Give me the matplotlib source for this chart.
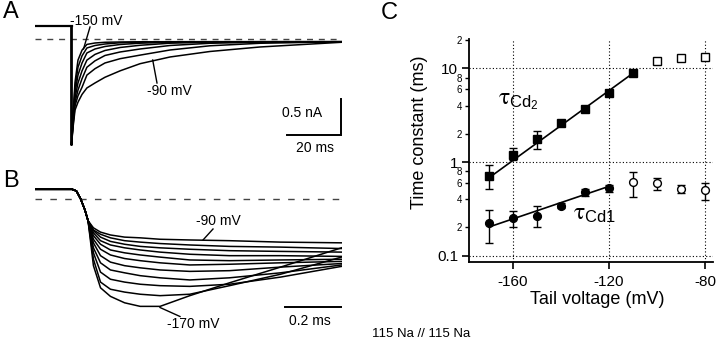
import matplotlib
matplotlib.use("Agg")
import matplotlib.pyplot as plt
from matplotlib.lines import Line2D
from matplotlib.ticker import FixedLocator, FixedFormatter, NullFormatter

plt.rcParams['font.family'] = ['Liberation Sans', 'DejaVu Sans']
plt.rcParams['mathtext.fontset'] = 'custom'
plt.rcParams['mathtext.rm'] = 'Liberation Sans'
plt.rcParams['mathtext.it'] = 'STIXGeneral'

W, H = 720, 349
fig = plt.figure(figsize=(W / 100, H / 100), dpi=100)


def px_axes(x0, y0, x1, y1):
    ax = fig.add_axes([x0 / W, 1 - y1 / H, (x1 - x0) / W, (y1 - y0) / H])
    return ax


def ftext(x, y, s, **kw):
    return fig.text(x / W, 1 - y / H, s, **kw)


def fline(xs, ys, lw=1.0):
    fig.add_artist(Line2D([x / W for x in xs], [1 - y / H for y in ys],
                          transform=fig.transFigure, color='k', lw=lw))


# ---------------- Panel A: Cd tail currents, slow component ----------------
a_hold = 0.178            # nA, holding current before the step
a_t_pre = [-13.5, 0.0]    # ms
a_time = [0, 0.55, 1.3, 2.4, 3.9, 5.7, 8.7, 12.4, 18, 25.4, 36.5, 51.3, 69.8, 100]
a_m150 = [-1.49, -1.07, -0.61, -0.30, -0.16, -0.08, -0.06, -0.05, -0.046, -0.043, -0.042, -0.042, -0.042, -0.042]
a_m140 = [-1.49, -1.11, -0.69, -0.40, -0.24, -0.13, -0.095, -0.074, -0.057, -0.049, -0.043, -0.042, -0.042, -0.042]
a_m130 = [-1.49, -1.14, -0.76, -0.51, -0.34, -0.20, -0.144, -0.109, -0.081, -0.063, -0.050, -0.045, -0.042, -0.042]
a_m120 = [-1.49, -1.17, -0.83, -0.62, -0.45, -0.30, -0.22, -0.165, -0.123, -0.092, -0.063, -0.049, -0.043, -0.042]
a_m110 = [-1.49, -1.19, -0.89, -0.72, -0.56, -0.40, -0.31, -0.235, -0.186, -0.144, -0.095, -0.064, -0.049, -0.042]
a_m100 = [-1.49, -1.22, -0.94, -0.80, -0.68, -0.51, -0.42, -0.34, -0.28, -0.23, -0.158, -0.099, -0.064, -0.043]
a_m90 = [-1.49, -1.25, -1.00, -0.89, -0.78, -0.69, -0.62, -0.54, -0.45, -0.35, -0.256, -0.179, -0.116, -0.050]
a_scale_ms, a_scale_nA = 20, 0.5

axA = px_axes(35, 20, 342, 150)
axA.set_xlim(-13.52, 100.19)
axA.set_ylim(-1.559, 0.262)
axA.axis('off')
axA.plot([-13.5, 100], [0, 0], color='#444444', lw=1.0, ls=(0, (4.3, 4.2)))
axA.plot(a_t_pre, [a_hold, a_hold], color='k', lw=1.6)
for tr in (a_m150, a_m140, a_m130, a_m120, a_m110, a_m100, a_m90):
    axA.plot([0] + a_time, [a_hold] + tr, color='k', lw=1.1,
             solid_joinstyle='round')
sbx, sby = 99.7, -1.349
axA.plot([sbx - a_scale_ms, sbx, sbx], [sby, sby, sby + a_scale_nA],
         color='k', lw=1.4, solid_joinstyle='miter')

ftext(3, 12, 'A', fontsize=17, va='center', ha='left')
ftext(70, 21, '-150 mV', fontsize=10, va='center', ha='left')
fline([90, 83.5], [27, 49])
ftext(147, 91, '-90 mV', fontsize=10, va='center', ha='left')
fline([157, 152.7], [83, 60])
ftext(302, 113, '0.5 nA', fontsize=10, va='center', ha='center')
ftext(315, 148, '20 ms', fontsize=10, va='center', ha='center')

# ---------------- Panel B: Cd tail currents, fast component ----------------
b_t_on = [-0.14, -0.01, 0.005, 0.02, 0.035, 0.046]   # ms, shared onset
b_i_on = [0.14, 0.14, 0.116, 0.004, -0.15, -0.30]   # nA
b_time = [0.065, 0.09, 0.125, 0.175, 0.23, 0.30, 0.405, 0.545, 0.725, 0.94]
b_t01 = [-0.40, -0.46, -0.50, -0.53, -0.54, -0.56, -0.57, -0.58, -0.60, -0.61]
b_t02 = [-0.43, -0.49, -0.54, -0.58, -0.60, -0.62, -0.64, -0.66, -0.67, -0.69]
b_t03 = [-0.44, -0.53, -0.59, -0.63, -0.66, -0.68, -0.70, -0.72, -0.73, -0.74]
b_t04 = [-0.47, -0.58, -0.64, -0.68, -0.71, -0.74, -0.77, -0.79, -0.79, -0.80]
b_t05 = [-0.51, -0.63, -0.71, -0.75, -0.78, -0.81, -0.85, -0.86, -0.85, -0.84]
b_t06 = [-0.56, -0.70, -0.78, -0.83, -0.86, -0.89, -0.92, -0.91, -0.89, -0.87]
b_t07 = [-0.61, -0.79, -0.88, -0.93, -0.96, -0.99, -1.01, -1.00, -0.95, -0.90]
b_t08 = [-0.68, -0.89, -0.99, -1.03, -1.07, -1.10, -1.13, -1.10, -1.03, -0.92]
b_t09 = [-0.75, -1.02, -1.12, -1.16, -1.19, -1.21, -1.22, -1.19, -1.09, -0.94]
b_t10 = [-0.84, -1.16, -1.26, -1.30, -1.33, -1.35, -1.33, -1.21, -1.05, -0.81]
b_t11 = [-0.93, -1.24, -1.36, -1.45, -1.50, -1.50, -1.35, -1.17, -0.95, -0.68]
b_scale_ms = 0.2

axB = px_axes(35, 180, 342, 335)
axB.set_xlim(-0.1411, 0.9418)
axB.set_ylim(-1.901, 0.270)
axB.axis('off')
axB.plot([-0.141, 0.94], [0, 0], color='#444444', lw=1.0, ls=(0, (4.7, 6.0)))
for tr in (b_t01, b_t02, b_t03, b_t04, b_t05, b_t06, b_t07, b_t08, b_t09, b_t10, b_t11):
    axB.plot(b_t_on + b_time, b_i_on + tr, color='k', lw=1.1,
             solid_joinstyle='round')
axB.plot([0.9407 - b_scale_ms, 0.9407], [-1.513, -1.513], color='k', lw=1.4)

ftext(3, 181, 'B', fontsize=17, va='center', ha='left')
ftext(218, 221, '-90 mV', fontsize=10, va='center', ha='center')
fline([213, 203], [229, 240])
ftext(193, 324, '-170 mV', fontsize=10, va='center', ha='center')
fline([180, 160], [316.5, 307.5])
ftext(310, 321, '0.2 ms', fontsize=10, va='center', ha='center')

# ---------------- Panel C: time constants vs tail voltage ----------------
v_cd1 = [-170, -160, -150, -140, -130, -120]
tau_cd1 = [0.223, 0.252, 0.267, 0.341, 0.474, 0.529]
tau_cd1_lo = [0.136, 0.200, 0.200, 0.322, 0.432, 0.478]
tau_cd1_hi = [0.309, 0.302, 0.336, 0.362, 0.520, 0.574]
v_cd1_open = [-110, -100, -90, -80]
tau_cd1_open = [0.607, 0.593, 0.520, 0.498]
tau_cd1_open_lo = [0.423, 0.507, 0.463, 0.396]
tau_cd1_open_hi = [0.785, 0.677, 0.574, 0.598]

v_cd2 = [-170, -160, -150, -140, -130, -120, -110]
tau_cd2 = [0.716, 1.20, 1.77, 2.61, 3.69, 5.47, 8.91]
tau_cd2_lo = [0.520, 1.04, 1.39, 2.48, 3.50, 5.20, 8.45]
tau_cd2_hi = [0.924, 1.40, 2.14, 2.75, 3.90, 5.75, 9.40]
v_cd2_open = [-100, -90, -80]
tau_cd2_open = [11.9, 13.1, 13.3]

fit1_v, fit1_tau = [-170, -120], [0.202, 0.55]
fit2_v, fit2_tau = [-170, -110], [0.676, 8.9]

axC = px_axes(469.3, 39.3, 713, 262.3)
axC.set_yscale('log')
axC.set_xlim(-178.1, -76.7)
axC.set_ylim(0.0849, 20.5)
for s in ('top', 'right'):
    axC.spines[s].set_visible(False)
for s in ('left', 'bottom'):
    axC.spines[s].set_linewidth(1.3)

axC.xaxis.set_major_locator(FixedLocator([-160, -120, -80]))
axC.set_xticklabels(['-160', '-120', '-80'])
axC.yaxis.set_major_locator(FixedLocator([0.1, 1, 10]))
axC.yaxis.set_major_formatter(FixedFormatter(['0.1', '1', '10']))
minor = [0.2, 0.4, 0.6, 0.8, 2, 4, 6, 8, 20]
axC.yaxis.set_minor_locator(FixedLocator(minor))
axC.yaxis.set_minor_formatter(FixedFormatter(['2', '4', '6', '8', '2', '4', '6', '8', '2']))
axC.xaxis.set_minor_formatter(NullFormatter())
axC.tick_params(axis='both', which='major', direction='out', length=5, width=1.2,
                labelsize=11, pad=3)
axC.tick_params(axis='y', which='minor', direction='out', length=3, width=1.0,
                labelsize=7, pad=2)
axC.tick_params(axis='x', which='major', pad=4)
axC.grid(True, which='major', color='k', lw=0.8, ls=(0, (1, 2)))

axC.plot(fit2_v, fit2_tau, color='k', lw=1.2, zorder=2)
axC.plot(fit1_v, fit1_tau, color='k', lw=1.2, zorder=2)

eb = dict(ecolor='k', elinewidth=1.0, capsize=3, capthick=1.0, ls='none', zorder=3)
axC.errorbar(v_cd2, tau_cd2,
             yerr=[[m - l for m, l in zip(tau_cd2, tau_cd2_lo)],
                   [h - m for m, h in zip(tau_cd2, tau_cd2_hi)]],
             marker='s', ms=6.4, mfc='k', mec='k', **eb)
axC.plot(v_cd2_open, tau_cd2_open, ls='none', marker='s', ms=6.4,
         mfc='white', mec='k', mew=1.0, zorder=4)
axC.errorbar(v_cd1, tau_cd1,
             yerr=[[m - l for m, l in zip(tau_cd1, tau_cd1_lo)],
                   [h - m for m, h in zip(tau_cd1, tau_cd1_hi)]],
             marker='o', ms=5.6, mfc='k', mec='k', **eb)
axC.errorbar(v_cd1_open, tau_cd1_open,
             yerr=[[m - l for m, l in zip(tau_cd1_open, tau_cd1_open_lo)],
                   [h - m for m, h in zip(tau_cd1_open, tau_cd1_open_hi)]],
             marker='o', ms=5.6, mfc='white', mec='k', mew=1.0, **eb)

axC.set_xlabel('Tail voltage (mV)', fontsize=13)
axC.set_ylabel('Time constant (ms)', fontsize=13)
axC.xaxis.set_label_coords(0.523, -0.128)
axC.yaxis.set_label_coords(-0.17, 0.585)

ftext(381, 13, 'C', fontsize=17, va='center', ha='left')
ftext(498, 101, r'$\tau_{\mathrm{Cd}_{\mathrm{2}}}$', fontsize=17, va='center', ha='left')
ftext(573, 214, r'$\tau_{\mathrm{Cd1}}$', fontsize=17, va='center', ha='left')

ftext(421, 334, '115 Na // 115 Na', fontsize=9.5, va='center', ha='center')

fig.savefig('out.png', dpi=100)
